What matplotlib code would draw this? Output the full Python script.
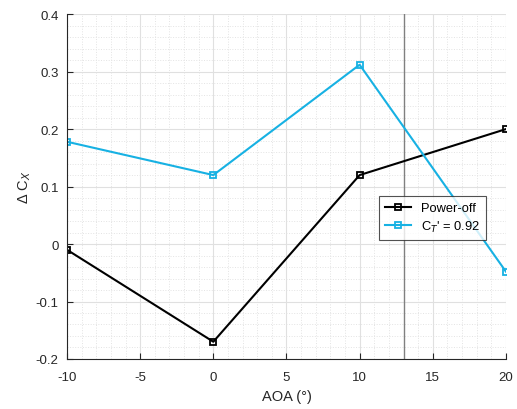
import numpy as np
import matplotlib.pyplot as plt
from matplotlib.ticker import MultipleLocator

plt.rcParams['font.family'] = ['Liberation Sans', 'DejaVu Sans']
plt.rcParams['axes.unicode_minus'] = False

# Углы атаки и приращения коэффициента
aoa = [-10, 0, 10, 20]
dcx_off = [-0.01, -0.17, 0.12, 0.2]
dcx_on = [0.178, 0.12, 0.312, -0.048]
x_marker = 13
yticks = [-0.2, -0.1, 0, 0.1, 0.2, 0.3, 0.4]
ytick_labels = ['-0.2', '-0.1', '0', '0.1', '0.2', '0.3', '0.4']

fig = plt.figure(figsize=(5.17, 4.10), dpi=100)
ax = fig.add_axes([0.1296, 0.122, 0.849, 0.841])

ax.plot(aoa, dcx_off, color='black', lw=1.5, marker='s', ms=5,
        mfc='none', mew=1.3, label='Power-off')
ax.plot(aoa, dcx_on, color='#17b1e3', lw=1.5, marker='s', ms=5,
        mfc='none', mew=1.3, label="C$_T$' = 0.92")
ax.axvline(x_marker, color='#808080', lw=1.0, zorder=1)

ax.set_xlim(-10, 20)
ax.set_ylim(-0.2, 0.4)
ax.xaxis.set_major_locator(MultipleLocator(5))
ax.xaxis.set_minor_locator(MultipleLocator(1))
ax.yaxis.set_minor_locator(MultipleLocator(0.02))
ax.set_yticks(yticks)
ax.set_yticklabels(ytick_labels)

ax.grid(which='major', color='#e0e0e0', lw=0.8)
ax.grid(which='minor', color='#e3e3e3', lw=0.7, ls=':')
ax.set_axisbelow(True)

for s in ['top', 'right']:
    ax.spines[s].set_visible(False)
for s in ['left', 'bottom']:
    ax.spines[s].set_color('#262626')
    ax.spines[s].set_linewidth(0.8)
ax.tick_params(which='major', direction='in', length=4, labelsize=9.5,
               colors='#262626')
ax.tick_params(axis='x', pad=9)
ax.tick_params(axis='y', pad=6)
ax.tick_params(which='minor', length=0)

ax.set_xlabel('AOA (°)', fontsize=10.5, color='#262626', labelpad=4)
ax.set_ylabel('Δ C$_X$', fontsize=10.5, color='#262626', labelpad=2)

leg = ax.legend(loc='upper left', bbox_to_anchor=(0.696, 0.49), fontsize=9.3,
                frameon=True, fancybox=False, edgecolor='#262626',
                handlelength=2.0, borderpad=0.45, labelspacing=0.35)
leg.get_frame().set_linewidth(0.8)

fig.savefig('out.png', dpi=100)
